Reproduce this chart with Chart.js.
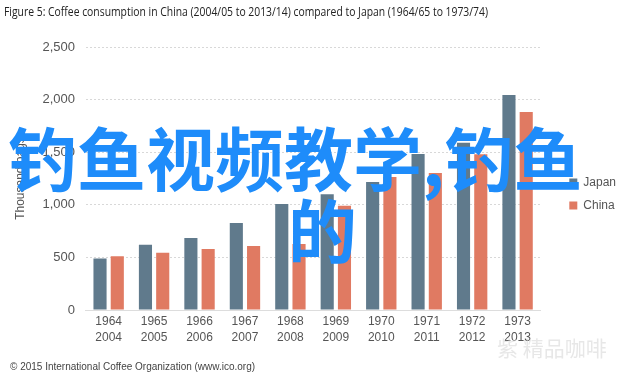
<!DOCTYPE html>
<html>
<head>
<meta charset="utf-8">
<script src="https://cdn.jsdelivr.net/npm/chart.js@4"></script>
<style>
  body { margin: 0; background: #fff; }
  #wrap { position: relative; width: 640px; height: 377px; }
</style>
</head>
<body>
<div id="wrap"><canvas id="myChart" width="640" height="377"></canvas></div>
<script>
var japanYears = ['1964', '1965', '1966', '1967', '1968', '1969', '1970', '1971', '1972', '1973'];
var chinaYears = ['2004', '2005', '2006', '2007', '2008', '2009', '2010', '2011', '2012', '2013'];
var japan = [490, 620, 685, 827, 1008, 1100, 1217, 1483, 1590, 2044];
var china = [510, 545, 580, 608, 627, 990, 1265, 1302, 1480, 1882];
var yTicks = [0, 500, 1000, 1500, 2000, 2500];

var labels = japanYears.map(function (y, i) { return [y, chinaYears[i]]; });

// extra texts: figure caption, source line and the watermarks on top
var overlay = {
    id: 'overlay',
    afterDraw: function (chart) {
        var c = chart.ctx;
        c.save();
        c.textBaseline = 'middle';
        c.textAlign = 'left';
        c.fillStyle = '#222';
        c.font = '13px "Open Sans", "Liberation Sans", sans-serif';
        c.fillText('Figure 5: Coffee consumption in China (2004/05 to 2013/14) compared to Japan (1964/65 to 1973/74)', 4, 12, 484);
        c.fillStyle = '#444';
        c.font = '10px "Liberation Sans", Arial, sans-serif';
        c.fillText('\u00a9 2015 International Coffee Organization (www.ico.org)', 10, 367);
        c.fillStyle = 'rgba(215,215,215,0.6)';
        c.font = '21px "Noto Sans CJK SC", sans-serif';
        c.fillText('紫 精品咖啡', 497, 348);
        c.fillStyle = '#1e8cfa';
        c.font = 'bold 69px "Noto Sans CJK SC", sans-serif';
        c.fillText('钓鱼视频教学,钓鱼', 8, 160);
        c.fillText('的', 288, 232);
        c.restore();
    }
};

var ctx = document.getElementById('myChart').getContext('2d');
var myChart = new Chart(ctx, {
    type: 'bar',
    data: {
        labels: labels,
        datasets: [{
            label: 'Japan',
            data: japan,
            backgroundColor: '#607a8c'
        }, {
            label: 'China',
            data: china,
            backgroundColor: '#e07a62'
        }]
    },
    options: {
        responsive: false,
        animation: false,
        categoryPercentage: 0.76,
        barPercentage: 0.76,
        layout: {
            padding: { top: 47, right: 14, bottom: 11, left: 9 }
        },
        plugins: {
            tooltip: { enabled: false },
            legend: {
                position: 'right',
                align: 'start',
                // blank title only pushes the items down to the reference height
                title: {
                    display: true,
                    text: ' ',
                    font: { size: 12 },
                    padding: { top: 0, bottom: 104 }
                },
                labels: {
                    boxWidth: 8,
                    boxHeight: 8,
                    padding: 11,
                    color: '#555',
                    font: { size: 12, family: '"Liberation Sans", Arial, sans-serif' }
                }
            }
        },
        scales: {
            x: {
                grid: { display: false, drawTicks: false },
                border: { color: '#ddd' },
                afterFit: function (axis) { axis.height = 56; },
                ticks: {
                    color: '#555',
                    maxRotation: 0,
                    padding: 4,
                    font: { size: 12, lineHeight: 1.3, family: '"Liberation Sans", Arial, sans-serif' }
                }
            },
            y: {
                min: 0,
                max: 2500,
                afterBuildTicks: function (axis) {
                    axis.ticks = yTicks.map(function (v) { return { value: v }; });
                },
                border: { display: false, dash: [2, 2] },
                grid: { color: '#d8d8d8', drawTicks: false },
                ticks: {
                    padding: 11,
                    color: '#555',
                    font: { size: 13, family: '"Liberation Sans", Arial, sans-serif' },
                    callback: function (v) { return v.toLocaleString('en-US'); }
                },
                title: {
                    display: true,
                    text: 'Thousand bags',
                    color: '#555',
                    font: { size: 12, family: '"Liberation Sans", Arial, sans-serif' }
                }
            },
            // empty spacer between the plot and the legend
            gap: {
                position: 'right',
                display: true,
                grid: { display: false, drawTicks: false },
                border: { display: false },
                ticks: { display: false },
                afterFit: function (axis) { axis.width = 18; }
            }
        }
    },
    plugins: [overlay]
});
</script>
</body>
</html>
